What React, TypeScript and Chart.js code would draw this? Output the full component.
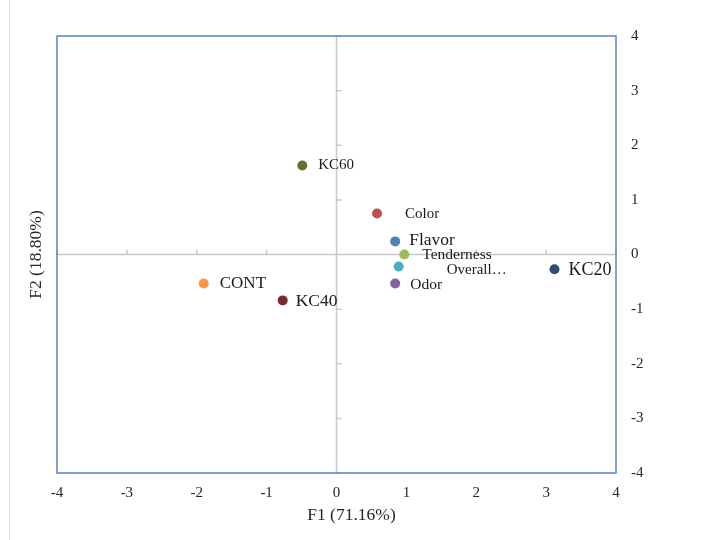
import React, { useEffect, useRef } from "react";
import { Chart, registerables } from "chart.js";

Chart.register(...registerables);

const pointLabels = ["KC60", "Color", "Flavor", "Tenderness", "Overall…", "Odor", "KC20", "CONT", "KC40"];
const f1Values = [-0.49, 0.58, 0.84, 0.97, 0.89, 0.84, 3.12, -1.9, -0.77];
const f2Values = [1.63, 0.75, 0.24, 0.0, -0.22, -0.53, -0.27, -0.53, -0.84];
const pointColors = ["#5f7530", "#c0504d", "#4f81bd", "#9bbb59", "#4bacc6", "#8064a2", "#2c4d75", "#f79646", "#772c2a"];
const xTitle = "F1 (71.16%)";
const yTitle = "F2 (18.80%)";

const labelStyle = {
  dx: [16, 28, 14, 18, 48, 15, 14, 16, 13],
  dy: [0, 1, -1, 0, 4, 1, 1, 0, 1],
  size: [15, 15, 17.5, 15.5, 15, 15.5, 18, 17, 17.5],
};

const FONT = "'Liberation Serif', 'Times New Roman', serif";

const pcaPlugin = {
  id: "pcaDecor",
  beforeDatasetsDraw(chart: any) {
    const { ctx, chartArea, scales } = chart;
    const x0 = scales.x.getPixelForValue(0);
    const y0 = scales.y.getPixelForValue(0);
    ctx.save();
    ctx.strokeStyle = "#c8c8c8";
    ctx.lineWidth = 1.5;
    ctx.beginPath();
    ctx.moveTo(chartArea.left, y0);
    ctx.lineTo(chartArea.right, y0);
    ctx.moveTo(x0, chartArea.top);
    ctx.lineTo(x0, chartArea.bottom);
    for (let v = -4; v <= 4; v++) {
      const py = scales.y.getPixelForValue(v);
      ctx.moveTo(x0, py);
      ctx.lineTo(x0 + 5, py);
      const px = scales.x.getPixelForValue(v);
      ctx.moveTo(px, y0);
      ctx.lineTo(px, y0 - 5);
    }
    ctx.stroke();
    ctx.restore();
  },
  afterDatasetsDraw(chart: any) {
    const { ctx, chartArea, scales } = chart;
    ctx.save();
    // plot border
    ctx.strokeStyle = "#5585c8";
    ctx.lineWidth = 1.5;
    ctx.strokeRect(chartArea.left, chartArea.top, chartArea.right - chartArea.left, chartArea.bottom - chartArea.top);
    // outer frame left edge
    ctx.strokeStyle = "#d9d9d9";
    ctx.lineWidth = 1;
    ctx.beginPath();
    ctx.moveTo(9.5, 0);
    ctx.lineTo(9.5, chart.height);
    ctx.stroke();
    // point labels
    ctx.fillStyle = "#1a1a1a";
    ctx.textBaseline = "middle";
    ctx.textAlign = "left";
    pointLabels.forEach((lab, i) => {
      const px = scales.x.getPixelForValue(f1Values[i]);
      const py = scales.y.getPixelForValue(f2Values[i]);
      ctx.font = `${labelStyle.size[i]}px ${FONT}`;
      ctx.fillText(lab, px + labelStyle.dx[i], py + labelStyle.dy[i]);
    });
    // axis titles
    ctx.fillStyle = "#262626";
    ctx.font = `17.5px ${FONT}`;
    ctx.textAlign = "center";
    ctx.fillText(xTitle, (chartArea.left + chartArea.right) / 2 + 15, 515);
    ctx.translate(36, (chartArea.top + chartArea.bottom) / 2);
    ctx.rotate(-Math.PI / 2);
    ctx.fillText(yTitle, 0, 0);
    ctx.restore();
  },
};

export default function App() {
  const ref = useRef<HTMLCanvasElement | null>(null);
  useEffect(() => {
    if (!ref.current) return;
    const chart = new Chart(ref.current, {
      type: "scatter",
      data: {
        datasets: [
          {
            data: f1Values.map((x, i) => ({ x, y: f2Values[i] })),
            backgroundColor: pointColors,
            borderColor: pointColors,
            pointRadius: 5,
            pointHoverRadius: 5,
            borderWidth: 0,
          },
        ],
      },
      options: {
        animation: false,
        responsive: false,
        devicePixelRatio: 1,
        layout: { padding: { left: 57, top: 36, right: 0, bottom: 0 } },
        plugins: { legend: { display: false }, tooltip: { enabled: false } },
        scales: {
          x: {
            type: "linear",
            min: -4,
            max: 4,
            ticks: { stepSize: 1, padding: 11, color: "#262626", font: { family: FONT, size: 15 } },
            grid: { display: false, drawTicks: false },
            border: { display: false },
            afterFit: (s: any) => {
              s.height = 67;
            },
          },
          y: {
            type: "linear",
            position: "right",
            min: -4,
            max: 4,
            ticks: { stepSize: 1, padding: 15, color: "#262626", font: { family: FONT, size: 15 } },
            grid: { display: false, drawTicks: false },
            border: { display: false },
            afterFit: (s: any) => {
              s.width = 85;
            },
          },
        },
      },
      plugins: [pcaPlugin],
    });
    return () => chart.destroy();
  }, []);
  return (
    <div style={{ position: "absolute", left: 0, top: 0, width: 701, height: 540, background: "#fff" }}>
      <canvas ref={ref} width={701} height={540} style={{ width: 701, height: 540 }} />
    </div>
  );
}
